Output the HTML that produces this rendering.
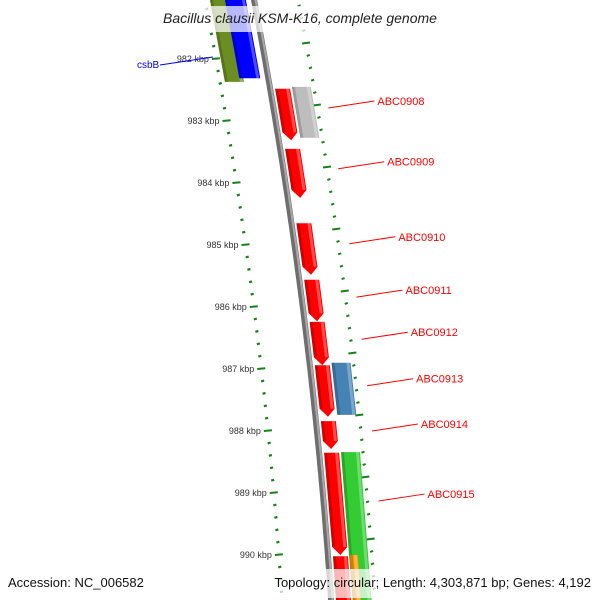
<!DOCTYPE html>
<html><head><meta charset="utf-8"><style>
html,body{margin:0;padding:0;background:#fff;}
svg{display:block;font-family:"Liberation Sans","DejaVu Sans",sans-serif;}
</style></head><body>
<svg id="map" width="600" height="600" viewBox="0 0 600 600" xmlns="http://www.w3.org/2000/svg">
<g id="ticks"></g>
<g id="feats"></g>
<g id="labels"></g>
</svg>
<script>
// data
const majorTicksKbp = [981, 982, 983, 984, 985, 986, 987, 988, 989, 990, 991];
const featNames = ["olive-gene","csbB","ABC0908-gray","ABC0908","ABC0909","ABC0910","ABC0911","ABC0912","ABC0913","ABC0913-blue","ABC0914","ABC0915","ABC0915-green","next-red","orange-gene"];
const featStart = [981.0, 981.0, 982.45, 982.48, 983.45, 984.65, 985.56, 986.24, 986.94, 986.90, 987.84, 988.35, 988.34, 990.02, 990.0];
const featEnd   = [982.37, 982.31, 983.27, 983.31, 984.24, 985.48, 986.23, 986.94, 987.77, 987.74, 988.29, 990.0, 991.2, 991.2, 991.2];
const featTrack = ["L1","L2","O","R","R","R","R","R","R","O","R","R","O","R","OR"];
const featColor = ["#6b8e23","#0000ff","#bdbdbd","#ff0000","#ff0000","#ff0000","#ff0000","#ff0000","#ff0000","#4682b4","#ff0000","#ff0000","#33cc33","#ff0000","#ff9900"];
const featArrow = [false,false,false,true,true,true,true,true,true,false,true,true,false,true,false];
const labelNames = ["ABC0908","ABC0909","ABC0910","ABC0911","ABC0912","ABC0913","ABC0914","ABC0915"];
const labelKbp = [982.79, 983.77, 984.98, 985.84, 986.52, 987.27, 988.0, 989.13];

const NS = "http://www.w3.org/2000/svg";
function yOf(k){ return 59 + (k - 982) * 62; }
function bx(y){ return 254 + 0.1908*y - 1.04e-4*y*y; }
const tracks = {R:[5,20], O:[22,41], OR:[22,30], L1:[-44,-25], L2:[-29,-8]};
function mk(tag, attrs, parent){ const e=document.createElementNS(NS,tag); for(const k in attrs) e.setAttribute(k,attrs[k]); parent.appendChild(e); return e; }

const tg = document.getElementById('ticks');
// backbone
let pts=[]; for(let y=-5;y<=605;y+=5) pts.push((bx(y)).toFixed(1)+","+y);
const bb1 = mk('polyline',{points:pts.join(' '),fill:'none',stroke:'#6e6e6e','stroke-width':6},tg);


let pts2=[]; for(let y=-5;y<=605;y+=5) pts2.push((bx(y)+1.5).toFixed(1)+","+y);
const bb2 = mk('polyline',{points:pts2.join(' '),fill:'none',stroke:'#a8a8a8','stroke-width':2},tg);



// left ring ticks
majorTicksKbp.forEach((k,i)=>{
  for(let m=0;m<5;m++){
    const y = yOf(k + m*0.2); if(y<-5||y>605) continue;
    const x = bx(y) - 49;
    const w = m===0 ? 8 : 3;
    const t = mk('line',{x1:x-w/2,y1:y,x2:x+w/2,y2:y-0.8,stroke:'#1a801a','stroke-width':m===0?2:2.2},tg);
    
    
    if(m===0 && y>40 && y<580){
      const tx = mk('text',{x:x-7,y:y+3,'text-anchor':'end','font-size':9,fill:'#333'},tg);
      tx.textContent = k + " kbp";
      
      
    }
    // right ring (offset)
    const yr = y - 16;
    if(yr>-5 && yr<605){
      const xr = bx(yr) + 44;
      const wr = m===0 ? 8 : 3;
      const tr = mk('line',{x1:xr-wr/2,y1:yr+0.5,x2:xr+wr/2,y2:yr-0.5,stroke:'#1a801a','stroke-width':2},tg);
      
      
    }
  }
});

// features
const fg = document.getElementById('feats');
featNames.forEach((n,i)=>{
  const o = tracks[featTrack[i]];
  const y1 = yOf(featStart[i]), y2 = yOf(featEnd[i]);
  let p;
  if(featArrow[i]){
    const h = 8, yh = y2 - h;
    p = [[bx(y1)+o[0],y1],[bx(y1)+o[1],y1],[bx(yh)+o[1],yh],[bx(y2)+(o[0]+o[1])/2,y2],[bx(yh)+o[0],yh]];
  } else {
    p = [[bx(y1)+o[0],y1],[bx(y1)+o[1],y1],[bx(y2)+o[1],y2],[bx(y2)+o[0],y2]];
  }
  const g = mk('g',{},fg);
  
  
  mk('polygon',{points:p.map(q=>q[0].toFixed(1)+","+q[1].toFixed(1)).join(' '),fill:featColor[i]},g);
  // shading strips
  const yb = featArrow[i] ? y2-8 : y2;
  mk('polygon',{points:[[bx(y1)+o[0],y1],[bx(y1)+o[0]+3,y1],[bx(yb)+o[0]+3,yb],[bx(yb)+o[0],yb]].map(q=>q[0].toFixed(1)+","+q[1].toFixed(1)).join(' '),fill:'#000',opacity:0.18},g);
  mk('polygon',{points:[[bx(y1)+o[1]-4,y1],[bx(y1)+o[1]-1,y1],[bx(yb)+o[1]-1,yb],[bx(yb)+o[1]-4,yb]].map(q=>q[0].toFixed(1)+","+q[1].toFixed(1)).join(' '),fill:'#fff',opacity:0.3},g);
});

// labels
const lg = document.getElementById('labels');
labelNames.forEach((n,i)=>{
  const y = yOf(labelKbp[i]);
  const x1 = bx(y) + 55, x2 = x1 + 46, y2 = y - 7;
  const l = mk('line',{x1:x1,y1:y,x2:x2,y2:y2,stroke:'#ff0000','stroke-width':1},lg);
  
  
  const t = mk('text',{x:x2+3,y:y2+4,'font-size':11,fill:'#ff0000'},lg);
  t.textContent = n;
  
  
});
</script>
<svg style="position:absolute;left:0;top:0" width="600" height="600">
<rect x="140" y="6" width="320" height="26" fill="#fff" opacity="0.72"/>
<text x="300" y="23" text-anchor="middle" font-family="Liberation Sans, sans-serif" font-size="14" font-style="italic" fill="#222">Bacillus clausii KSM-K16, complete genome</text>
<line x1="160" y1="65" x2="213" y2="57" stroke="#0000ff" stroke-width="1"/>
<text x="137" y="68" font-family="Liberation Sans, sans-serif" font-size="10" fill="#0000ff">csbB</text>
<rect x="0" y="569" width="600" height="29" fill="#fff" opacity="0.72"/>
<text x="8" y="587" font-family="Liberation Sans, sans-serif" font-size="13" fill="#111">Accession: NC_006582</text>
<text x="591" y="587" text-anchor="end" font-family="Liberation Sans, sans-serif" font-size="13" fill="#111">Topology: circular; Length: 4,303,871 bp; Genes: 4,192</text>
</svg>
</body></html>
